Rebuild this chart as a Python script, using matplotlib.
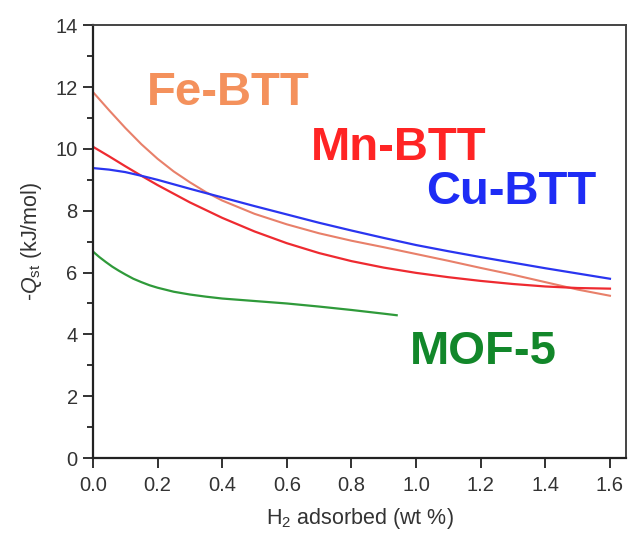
import matplotlib
matplotlib.use("Agg")
import matplotlib.pyplot as plt
from matplotlib.ticker import MultipleLocator

plt.rcParams['font.family'] = ['Liberation Sans', 'DejaVu Sans']
plt.rcParams['mathtext.fontset'] = 'custom'
plt.rcParams['mathtext.rm'] = 'Liberation Sans'
plt.rcParams['mathtext.it'] = 'Liberation Sans:italic'

# values
fe_x = [0.0, 0.05, 0.1, 0.15, 0.2, 0.25, 0.3, 0.35, 0.4, 0.5, 0.6, 0.7, 0.8, 0.9, 1.0, 1.1, 1.2, 1.3, 1.4, 1.5, 1.6]
fe_y = [11.84, 11.25, 10.68, 10.15, 9.68, 9.27, 8.92, 8.6, 8.33, 7.9, 7.56, 7.27, 7.03, 6.82, 6.6, 6.38, 6.15, 5.93, 5.69, 5.45, 5.25]

mn_x = [0.0, 0.05, 0.1, 0.15, 0.2, 0.3, 0.4, 0.5, 0.6, 0.7, 0.8, 0.9, 1.0, 1.1, 1.2, 1.3, 1.4, 1.5, 1.6]
mn_y = [10.07, 9.76, 9.44, 9.13, 8.83, 8.27, 7.77, 7.33, 6.95, 6.63, 6.37, 6.16, 5.99, 5.85, 5.73, 5.63, 5.55, 5.5, 5.48]

cu_x = [0.0, 0.05, 0.1, 0.15, 0.2, 0.3, 0.4, 0.5, 0.6, 0.7, 0.8, 0.9, 1.0, 1.1, 1.2, 1.3, 1.4, 1.5, 1.6]
cu_y = [9.38, 9.33, 9.25, 9.13, 9.0, 8.71, 8.43, 8.15, 7.88, 7.61, 7.36, 7.12, 6.89, 6.69, 6.5, 6.32, 6.14, 5.97, 5.8]

mof_x = [0.0, 0.02, 0.04, 0.06, 0.08, 0.1, 0.125, 0.15, 0.175, 0.2, 0.25, 0.3, 0.35, 0.4, 0.5, 0.6, 0.7, 0.8, 0.9, 0.94]
mof_y = [6.68, 6.5, 6.34, 6.19, 6.06, 5.94, 5.8, 5.69, 5.59, 5.51, 5.38, 5.29, 5.22, 5.16, 5.08, 5.0, 4.9, 4.79, 4.67, 4.62]

fig = plt.figure(figsize=(6.28, 5.37), dpi=100)
ax = fig.add_axes([0.148, 0.147, 0.849, 0.806])

ax.plot(fe_x, fe_y, color='#e8806a', lw=1.5)
ax.plot(mn_x, mn_y, color='#ee2a30', lw=1.6)
ax.plot(cu_x, cu_y, color='#2a35f0', lw=1.6)
ax.plot(mof_x, mof_y, color='#2f9a3a', lw=1.6)

ax.text(0.42, 11.8, 'Fe-BTT', color='#f4915c', fontsize=34, fontweight='bold', ha='center', va='center')
ax.text(0.947, 10.02, 'Mn-BTT', color='#ff2424', fontsize=34, fontweight='bold', ha='center', va='center')
ax.text(1.294, 8.6, 'Cu-BTT', color='#1e2cf5', fontsize=34, fontweight='bold', ha='center', va='center')
ax.text(1.207, 3.43, 'MOF-5', color='#12872a', fontsize=34, fontweight='bold', ha='center', va='center')

ax.set_xlim(0, 1.65)
ax.set_ylim(0, 14)
ax.xaxis.set_major_locator(MultipleLocator(0.2))
ax.yaxis.set_major_locator(MultipleLocator(2))
ax.yaxis.set_minor_locator(MultipleLocator(1))
ax.xaxis.set_major_formatter(matplotlib.ticker.FormatStrFormatter('%.1f'))
ax.tick_params(axis='both', which='major', direction='out', length=7, width=1.3,
               labelsize=14.5, colors='#222222', labelcolor='#333333', pad=4)
ax.tick_params(axis='x', which='major', pad=6)
ax.tick_params(axis='y', which='minor', direction='out', length=4, width=1.3, colors='#222222')

for s in ['left', 'bottom']:
    ax.spines[s].set_linewidth(1.6)
    ax.spines[s].set_color('#222222')
for s in ['top', 'right']:
    ax.spines[s].set_linewidth(1.4)
    ax.spines[s].set_color('#444444')

ax.set_xlabel('H$_2$ adsorbed (wt %)', fontsize=15.5, color='#333333', labelpad=8)
ax.set_ylabel('-$Q_{\\mathrm{st}}$ (kJ/mol)', fontsize=15.5, color='#333333', labelpad=8)

fig.savefig('out.png', dpi=100)
